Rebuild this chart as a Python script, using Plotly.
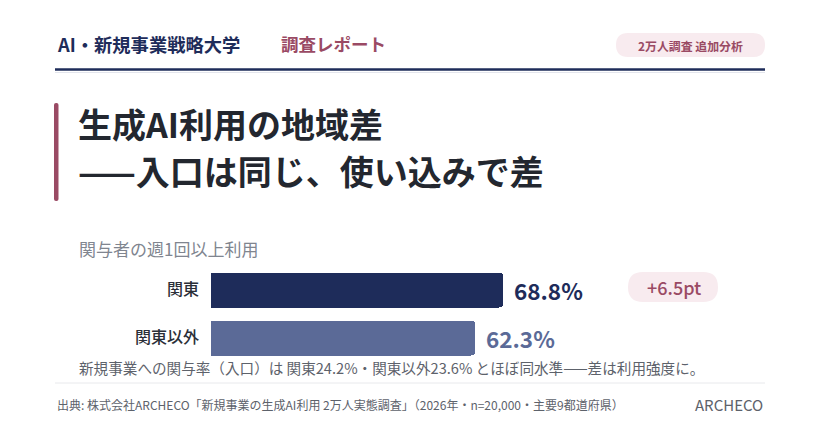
import plotly.graph_objects as go

# ---- data ----
categories = ["関東以外", "関東"]
values = [62.3, 68.8]
bar_colors = ["#5b6a97", "#1e2c5a"]
value_labels = ["62.3%", "68.8%"]
diff_label = "+6.5pt"

header_left = "AI・新規事業戦略大学"
header_mid = "調査レポート"
header_pill = "2万人調査 追加分析"
title_lines = ["生成AI利用の地域差", "——入口は同じ、使い込みで差"]
subtitle = "関与者の週1回以上利用"
note = "新規事業への関与率（入口）は 関東24.2%・関東以外23.6% とほぼ同水準——差は利用強度に。"
source = "出典: 株式会社ARCHECO「新規事業の生成AI利用 2万人実態調査」（2026年・n=20,000・主要9都道府県）"
brand = "ARCHECO"

W, H = 820, 431
FONT = "Noto Sans CJK JP"
NAVY = "#1e2c5a"
MAUVE = "#9a4a64"
PINK = "#f8ebef"
GRAY = "#5d626b"


def px(x):
    return x / W


def py(y):
    return 1 - y / H


def rrect(x0, y0, x1, y1, r):
    # rounded rectangle path in paper coords, inputs in pixels (y downward)
    def P(x, y):
        return f"{px(x):.5f},{py(y):.5f}"
    return (f"M {P(x0 + r, y0)} L {P(x1 - r, y0)} Q {P(x1, y0)} {P(x1, y0 + r)} "
            f"L {P(x1, y1 - r)} Q {P(x1, y1)} {P(x1 - r, y1)} "
            f"L {P(x0 + r, y1)} Q {P(x0, y1)} {P(x0, y1 - r)} "
            f"L {P(x0, y0 + r)} Q {P(x0, y0)} {P(x0 + r, y0)} Z")


fig = go.Figure()
fig.add_trace(go.Bar(
    y=categories, x=values, orientation="h",
    marker=dict(color=bar_colors, cornerradius=4, line=dict(width=0)),
    width=0.729, hoverinfo="skip",
))

annotations = []
for c, v, lab, col in zip(categories, values, value_labels, bar_colors):
    annotations.append(dict(x=v, y=c, xref="x", yref="y", text=lab, showarrow=False,
                            xanchor="left", yanchor="middle", xshift=9,
                            font=dict(family=FONT, size=22.5, color=col, weight=700)))


def txt(x, y, text, size, color, anchor="left", weight=400):
    annotations.append(dict(x=px(x), y=py(y), xref="paper", yref="paper", text=text,
                            showarrow=False, xanchor=anchor, yanchor="middle",
                            font=dict(family=FONT, size=size, color=color, weight=weight)))


txt(55, 44, header_left, 18.3, NAVY, weight=700)
txt(279, 44, header_mid, 17.5, MAUVE, weight=700)
txt(690.5, 45, header_pill, 11.9, MAUVE, anchor="center", weight=700)
txt(76, 124, title_lines[0], 34, "#23272f", weight=700)
txt(76, 170, title_lines[1], 34, "#23272f", weight=700)
txt(77, 248, subtitle, 17, "#80858f")
txt(673.5, 287, diff_label, 18, MAUVE, anchor="center", weight=500)
txt(77, 367, note, 14.6, GRAY)
txt(55, 404, source, 12, GRAY)
txt(765, 404, brand, 15, GRAY, anchor="right")

shapes = [
    dict(type="path", path=rrect(616, 33, 765, 57, 12), xref="paper", yref="paper",
         fillcolor=PINK, line=dict(width=0), layer="below"),
    dict(type="line", x0=px(55), x1=px(765), y0=py(69.5), y1=py(69.5), xref="paper", yref="paper",
         line=dict(color=NAVY, width=2.5)),
    dict(type="line", x0=px(55), x1=px(765), y0=py(72.5), y1=py(72.5), xref="paper", yref="paper",
         line=dict(color="#e3e5ec", width=1.2)),
    dict(type="path", path=rrect(54, 103, 58.5, 201, 2), xref="paper", yref="paper",
         fillcolor=MAUVE, line=dict(width=0)),
    dict(type="path", path=rrect(628, 272, 718, 302, 15), xref="paper", yref="paper",
         fillcolor=PINK, line=dict(width=0), layer="below"),
    dict(type="line", x0=px(55), x1=px(765), y0=py(383), y1=py(383), xref="paper", yref="paper",
         line=dict(color="#e8e9ec", width=1)),
]

fig.update_layout(
    width=W, height=H,
    margin=dict(l=0, r=0, t=0, b=0),
    paper_bgcolor="white", plot_bgcolor="white",
    showlegend=False,
    bargap=0,
    xaxis=dict(range=[0, 100], domain=[px(211), px(635.4)], visible=False, fixedrange=True),
    yaxis=dict(range=[-0.5, 1.5], domain=[py(361.5), py(265.5)], type="category",
               categoryorder="array", categoryarray=categories,
               showgrid=False, zeroline=False, showline=False, ticks="",
               ticklabelstandoff=11,
               tickfont=dict(family=FONT, size=16, color="#2b2f38", weight=500), fixedrange=True),
    annotations=annotations,
    shapes=shapes,
    font=dict(family=FONT),
)

fig.write_html("out.html", config={"displayModeBar": False},
               post_script="document.body.style.margin='0';document.body.style.overflow='hidden';")
